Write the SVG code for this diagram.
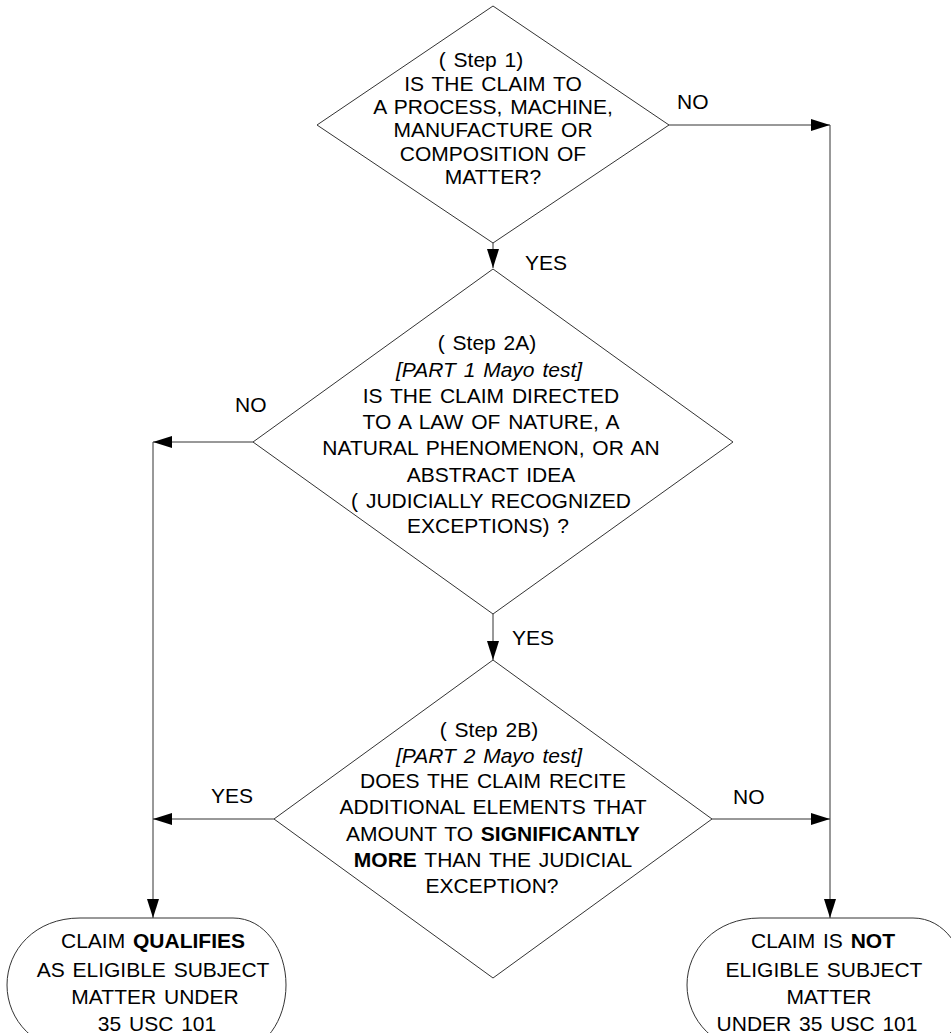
<svg xmlns="http://www.w3.org/2000/svg" width="951" height="1033" viewBox="0 0 951 1033">
<style>
.shape{fill:#fff;stroke:#333;stroke-width:1}
.conn{fill:none;stroke:#333;stroke-width:1}
text{font-family:"Liberation Sans",Arial,sans-serif;font-size:21px;fill:#000;word-spacing:2px}
.c{text-anchor:middle}
.i{font-style:italic}
.b{font-weight:bold}
</style>
<defs>
<marker id="arr" markerUnits="userSpaceOnUse" markerWidth="20" markerHeight="12" refX="19" refY="6" orient="auto">
<path d="M0,0 L19,6 L0,12 z" fill="#000"/>
</marker>
</defs>
<rect width="951" height="1033" fill="#fff"/>
<g id="connectors">
<path class="conn" d="M493,243 V268" marker-end="url(#arr)"/>
<path class="conn" d="M669,125 H830" marker-end="url(#arr)"/>
<path class="conn" d="M830,125 V918" marker-end="url(#arr)"/>
<path class="conn" d="M253,442 H153" marker-end="url(#arr)"/>
<path class="conn" d="M153,442 V918" marker-end="url(#arr)"/>
<path class="conn" d="M493,614 V660" marker-end="url(#arr)"/>
<path class="conn" d="M274,819 H153" marker-end="url(#arr)"/>
<path class="conn" d="M712,819 H830" marker-end="url(#arr)"/>
<text x="677" y="109">NO</text>
<text x="525" y="270">YES</text>
<text x="235" y="412">NO</text>
<text x="512" y="645">YES</text>
<text x="211" y="803">YES</text>
<text x="733" y="804">NO</text>
</g>
<g id="step1">
<polygon class="shape" points="493,6 669,125 493,243 317,125"/>
<text class="c" x="481" y="67">( Step 1)</text>
<text class="c" x="493" y="91">IS THE CLAIM TO</text>
<text class="c" x="493" y="114">A PROCESS, MACHINE,</text>
<text class="c" x="493" y="137">MANUFACTURE OR</text>
<text class="c" x="493" y="161">COMPOSITION OF</text>
<text class="c" x="493" y="184">MATTER?</text>
</g>
<g id="step2a">
<polygon class="shape" points="493,269 733,442 493,614 253,442"/>
<text class="c" x="487" y="350">( Step 2A)</text>
<text class="c i" x="489" y="377">[PART 1 Mayo test]</text>
<text class="c" x="491" y="403">IS THE CLAIM DIRECTED</text>
<text class="c" x="491" y="429">TO A LAW OF NATURE, A</text>
<text class="c" x="491" y="455">NATURAL PHENOMENON, OR AN</text>
<text class="c" x="491" y="482">ABSTRACT IDEA</text>
<text class="c" x="491" y="508">( JUDICIALLY RECOGNIZED</text>
<text class="c" x="488" y="533">EXCEPTIONS) ?</text>
</g>
<g id="step2b">
<polygon class="shape" points="493,660 712,819 493,978 274,819"/>
<text class="c" x="489" y="737">( Step 2B)</text>
<text class="c i" x="489" y="763">[PART 2 Mayo test]</text>
<text class="c" x="493" y="788">DOES THE CLAIM RECITE</text>
<text class="c" x="493" y="814">ADDITIONAL ELEMENTS THAT</text>
<text class="c" x="493" y="841">AMOUNT TO <tspan class="b">SIGNIFICANTLY</tspan></text>
<text class="c" x="493" y="867"><tspan class="b">MORE</tspan> THAN THE JUDICIAL</text>
<text class="c" x="492" y="893">EXCEPTION?</text>
</g>
<g id="qualifies">
<path class="shape" d="M80,918 H233 C265,918 286,950 286,985 C286,1020 265,1052 233,1052 H80 C35,1052 7,1020 7,985 C7,950 35,918 80,918 Z"/>
<text class="c" x="153" y="948">CLAIM <tspan class="b">QUALIFIES</tspan></text>
<text class="c" x="153" y="977">AS ELIGIBLE SUBJECT</text>
<text class="c" x="155" y="1004">MATTER UNDER</text>
<text class="c" x="157" y="1031">35 USC 101</text>
</g>
<g id="not-eligible">
<path class="shape" d="M760,918 H913 C945,918 966,950 966,985 C966,1020 945,1052 913,1052 H760 C715,1052 687,1020 687,985 C687,950 715,918 760,918 Z"/>
<text class="c" x="823" y="948">CLAIM IS <tspan class="b">NOT</tspan></text>
<text class="c" x="824" y="977">ELIGIBLE SUBJECT</text>
<text class="c" x="829" y="1004">MATTER</text>
<text class="c" x="817" y="1031">UNDER 35 USC 101</text>
</g>
</svg>
